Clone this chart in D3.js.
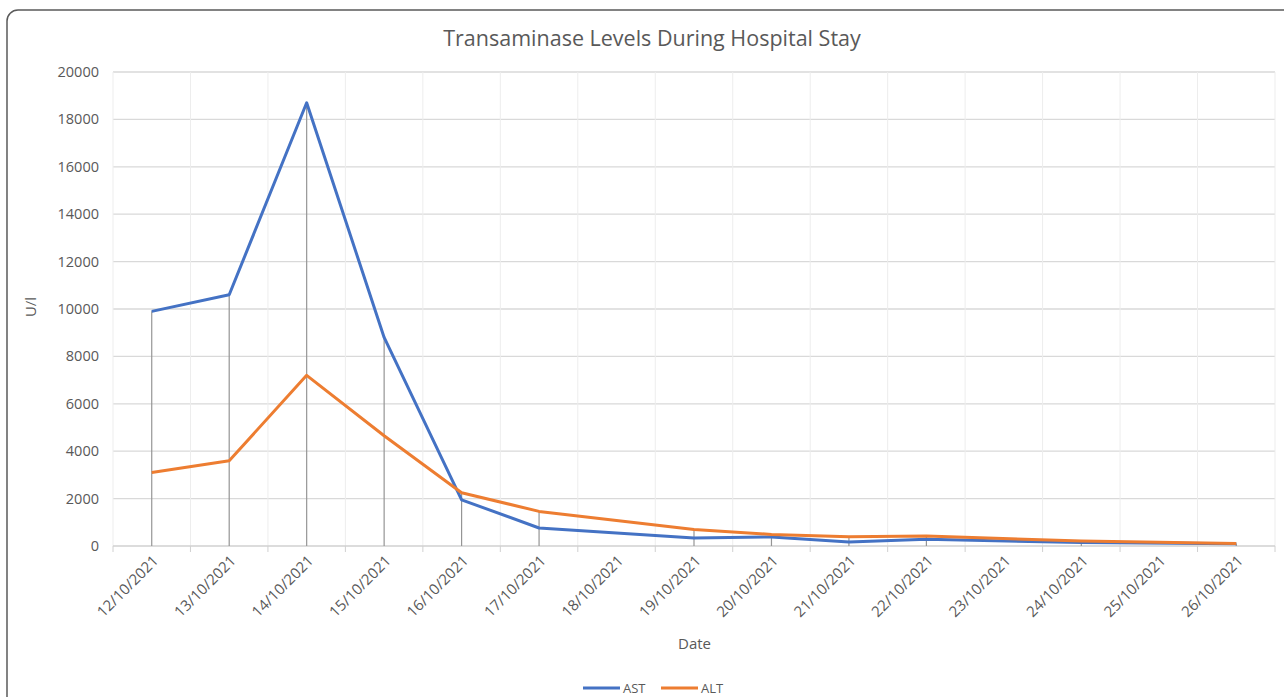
<!DOCTYPE html>
<html><head><meta charset="utf-8">
<script src="https://cdn.jsdelivr.net/npm/d3@7"></script>
<style>body{margin:0;background:#fff;} text{font-family:"Open Sans",sans-serif;}</style>
</head><body>
<svg id="c" width="1284" height="697"></svg>
<script>
const dates = ["12/10/2021","13/10/2021","14/10/2021","15/10/2021","16/10/2021","17/10/2021","18/10/2021","19/10/2021","20/10/2021","21/10/2021","22/10/2021","23/10/2021","24/10/2021","25/10/2021","26/10/2021"];
const astValues = [9900,10600,18700,8800,1950,760,null,340,380,170,280,null,150,null,100];
const altValues = [3100,3600,7200,4650,2250,1460,null,700,490,390,420,null,210,null,110];
const yTicks = [0,2000,4000,6000,8000,10000,12000,14000,16000,18000,20000];
const seriesNames = ["AST","ALT"];
const colors = ["#4472C4","#ED7D31"];

(function(){
const svg = d3.select("#c");
svg.append("rect").attr("x",7).attr("y",10).attr("width",1300).attr("height",720)
  .attr("rx",11).attr("fill","#fff").attr("stroke","#5a5a5a").attr("stroke-width",1.5);

const pL=113, pR=1275, pT=72, pB=546;
const x = d3.scaleBand().domain(dates).range([pL,pR]).padding(0);
const cx = d => x(d)+x.bandwidth()/2;
const y = d3.scaleLinear().domain([0,20000]).range([pB,pT]);

svg.append("g").selectAll("line").data(yTicks.slice(1)).join("line")
  .attr("x1",pL).attr("x2",pR).attr("y1",d=>y(d)).attr("y2",d=>y(d))
  .attr("stroke","#d9d9d9").attr("stroke-width",1.3);
const bounds = dates.map(d=>x(d)).concat([pR]);
svg.append("g").selectAll("line").data(bounds).join("line")
  .attr("x1",d=>d).attr("x2",d=>d).attr("y1",pT).attr("y2",pB)
  .attr("stroke","#ededed").attr("stroke-width",1);
svg.append("line").attr("x1",pL).attr("x2",pR).attr("y1",pB).attr("y2",pB)
  .attr("stroke","#d0d0d0").attr("stroke-width",1.3);
svg.append("g").selectAll("line").data(bounds).join("line")
  .attr("x1",d=>d).attr("x2",d=>d).attr("y1",pB).attr("y2",pB+6)
  .attr("stroke","#d0d0d0").attr("stroke-width",1);

const pts = dates.map((d,i)=>({d, a:astValues[i], b:altValues[i]})).filter(p=>p.a!==null);
svg.append("g").selectAll("line").data(pts).join("line")
  .attr("x1",p=>cx(p.d)).attr("x2",p=>cx(p.d)).attr("y1",p=>y(Math.max(p.a,p.b))).attr("y2",pB)
  .attr("stroke","#959595").attr("stroke-width",1.2);

[astValues, altValues].forEach((vals,k)=>{
  const data = dates.map((d,i)=>({d,v:vals[i]})).filter(p=>p.v!==null);
  svg.append("path").datum(data)
    .attr("d", d3.line().x(p=>cx(p.d)).y(p=>y(p.v)))
    .attr("fill","none").attr("stroke",colors[k]).attr("stroke-width",3)
    .attr("stroke-linejoin","round");
});

svg.append("g").selectAll("text").data(yTicks).join("text")
  .attr("x",99).attr("y",d=>y(d)).attr("dy","0.35em").attr("text-anchor","end")
  .attr("font-size",14.5).attr("fill","#595959").text(d=>d);
svg.append("g").selectAll("text").data(dates).join("text")
  .attr("transform",d=>`translate(${cx(d)+4},${pB+12}) rotate(-45)`)
  .attr("text-anchor","end").attr("dy","0.35em")
  .attr("font-size",15).attr("fill","#595959").text(d=>d);

svg.append("text").attr("x",652).attr("y",46).attr("text-anchor","middle")
  .attr("font-size",21.5).attr("fill","#595959").text("Transaminase Levels During Hospital Stay");
svg.append("text").attr("transform","translate(36,307) rotate(-90)").attr("text-anchor","middle")
  .attr("font-size",15).attr("fill","#595959").text("U/l");
svg.append("text").attr("x",694.5).attr("y",649).attr("text-anchor","middle")
  .attr("font-size",15).attr("fill","#595959").text("Date");

const legX = [583, 661];
seriesNames.forEach((n,k)=>{
  svg.append("line").attr("x1",legX[k]).attr("x2",legX[k]+37).attr("y1",688).attr("y2",688)
    .attr("stroke",colors[k]).attr("stroke-width",3);
  svg.append("text").attr("x",legX[k]+40).attr("y",688).attr("dy","0.35em")
    .attr("font-size",13).attr("fill","#595959").text(n);
});
})();
</script>
</body></html>
